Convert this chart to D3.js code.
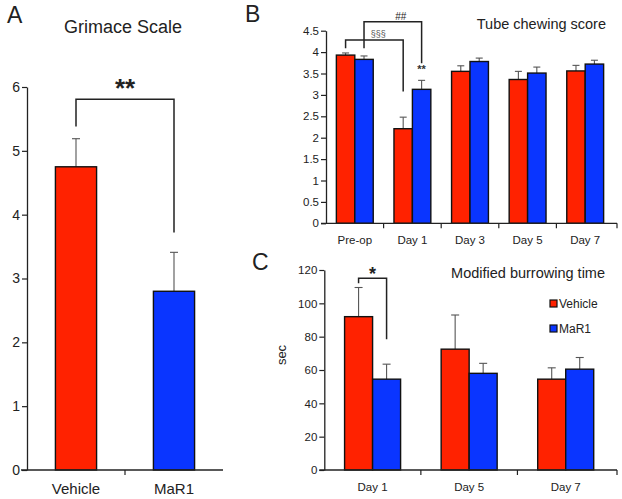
<!DOCTYPE html>
<html><head><meta charset="utf-8">
<script src="https://cdn.jsdelivr.net/npm/d3@7"></script>
<style>body{margin:0;background:#fff}svg{display:block;font-family:"Liberation Sans",Arial,sans-serif}</style>
</head><body><svg id="c" width="622" height="499"></svg>
<script>
// ---- Data ----
const seriesNames = ["Vehicle", "MaR1"];
const colors = ["#ff2200", "#0a35ff"];

// Panel A: Grimace Scale
const aCategories = ["Vehicle", "MaR1"];
const aValues = [4.75, 2.80];
const aErrors = [0.44, 0.61];
const aTicks = [0, 1, 2, 3, 4, 5, 6];

// Panel B: Tube chewing score
const bCategories = ["Pre-op", "Day 1", "Day 3", "Day 5", "Day 7"];
const bVehicle = [3.93, 2.21, 3.55, 3.36, 3.56];
const bVehicleErr = [0.05, 0.27, 0.13, 0.19, 0.13];
const bMaR1 = [3.83, 3.13, 3.78, 3.51, 3.72];
const bMaR1Err = [0.08, 0.21, 0.08, 0.14, 0.09];
const bTicks = [0, 0.5, 1, 1.5, 2, 2.5, 3, 3.5, 4, 4.5];

// Panel C: Modified burrowing time
const cCategories = ["Day 1", "Day 5", "Day 7"];
const cVehicle = [92, 72.5, 54.5];
const cVehicleErr = [17.5, 20.5, 6.8];
const cMaR1 = [54.5, 58, 60.5];
const cMaR1Err = [9, 6, 7];
const cTicks = [0, 20, 40, 60, 80, 100, 120];

const svg = d3.select("#c");

function yAxis(g, y, ticks, fmt, fs, x0) {
  const ax = d3.axisLeft(y).tickValues(ticks).tickFormat(fmt).tickSize(5).tickSizeOuter(0);
  const a = g.append("g").attr("transform", `translate(${x0},0)`).call(ax);
  a.select(".domain").attr("stroke", "#222").attr("stroke-width", 1.3);
  a.selectAll(".tick line").attr("stroke", "#222").attr("stroke-width", 1.2);
  a.selectAll(".tick text").attr("font-size", fs).attr("fill", "#222").attr("x", -7).attr("font-family", "Liberation Sans, Arial, sans-serif");
}
function xAxis(g, x, y0, extra) {
  const [r0, r1] = x.range();
  g.append("line").attr("x1", r0 - 5).attr("x2", r1 + extra).attr("y1", y0).attr("y2", y0).attr("stroke", "#222").attr("stroke-width", 1.3);
  x.domain().forEach((d, i) => {
    if (i === 0) return;
    const xb = x(d);
    g.append("line").attr("x1", xb).attr("x2", xb).attr("y1", y0).attr("y2", y0 + 5).attr("stroke", "#222").attr("stroke-width", 1.2);
  });
  g.append("line").attr("x1", r1 + extra).attr("x2", r1 + extra).attr("y1", y0).attr("y2", y0 + 5).attr("stroke", "#222").attr("stroke-width", 1.2);
}
function bar(g, x0, w, y, v, err, col, cap) {
  const xc = x0 + w / 2;
  g.append("line").attr("x1", xc).attr("x2", xc).attr("y1", y(v)).attr("y2", y(v + err)).attr("stroke", "#555").attr("stroke-width", 1.1);
  g.append("line").attr("x1", xc - cap).attr("x2", xc + cap).attr("y1", y(v + err)).attr("y2", y(v + err)).attr("stroke", "#555").attr("stroke-width", 1.1);
  g.append("rect").attr("x", x0).attr("y", y(v)).attr("width", w).attr("height", y(0) - y(v))
    .attr("fill", col).attr("stroke", "#111").attr("stroke-width", 1.4);
}
function bracket(g, x1, y1, x2, y2, top) {
  g.append("path").attr("d", `M${x1},${y1}V${top}H${x2}V${y2}`).attr("fill", "none").attr("stroke", "#222").attr("stroke-width", 1.5);
}

// ---------- Panel A ----------
{
  const g = svg.append("g");
  const x = d3.scaleBand().domain(aCategories).range([27, 223]).padding(0);
  const y = d3.scaleLinear().domain([0, 6]).range([470, 87]);
  const bw = x.bandwidth() * 0.42;
  aCategories.forEach((c, i) => {
    bar(g, x(c) + (x.bandwidth() - bw) / 2, bw, y, aValues[i], aErrors[i], colors[i], 4);
  });
  yAxis(g, y, aTicks, d3.format("d"), 14, 27);
  g.append("line").attr("x1", 21).attr("x2", 223).attr("y1", y(0)).attr("y2", y(0)).attr("stroke", "#222").attr("stroke-width", 1.3);
  g.append("line").attr("x1", x("MaR1")).attr("x2", x("MaR1")).attr("y1", y(0)).attr("y2", y(0) + 5).attr("stroke", "#222").attr("stroke-width", 1.2);
  aCategories.forEach(c => {
    g.append("text").attr("x", x(c) + x.bandwidth() / 2).attr("y", 494).attr("text-anchor", "middle").attr("font-size", 15).attr("fill", "#222").text(c);
  });
  const xa = x("Vehicle") + x.bandwidth() / 2, xb = x("MaR1") + x.bandwidth() / 2;
  bracket(g, xa, y(5.38), xb, y(3.72), y(5.81));
  g.append("text").attr("x", (xa + xb) / 2).attr("y", y(5.81) - 2).attr("text-anchor", "middle").attr("font-size", 26).attr("font-weight", "bold").attr("fill", "#222").text("**");
  g.append("text").attr("x", 123).attr("y", 33).attr("text-anchor", "middle").attr("font-size", 18).attr("fill", "#222").text("Grimace Scale");
  g.append("text").attr("x", 7).attr("y", 23).attr("font-size", 23).attr("fill", "#222").text("A");
}

// ---------- Panel B ----------
{
  const g = svg.append("g");
  const x = d3.scaleBand().domain(bCategories).range([326, 614]).padding(0);
  const y = d3.scaleLinear().domain([0, 4.5]).range([223.3, 30.7]);
  const bw = x.bandwidth() * 0.32;
  const xr = c => x(c) + x.bandwidth() / 2 - bw;
  const xbl = c => x(c) + x.bandwidth() / 2;
  bCategories.forEach((c, i) => {
    bar(g, xr(c), bw, y, bVehicle[i], bVehicleErr[i], colors[0], 3.5);
    bar(g, xbl(c), bw, y, bMaR1[i], bMaR1Err[i], colors[1], 3.5);
  });
  yAxis(g, y, bTicks, d3.format("~g"), 11.5, 326);
  xAxis(g, x, y(0), 3);
  bCategories.forEach(c => {
    g.append("text").attr("x", x(c) + x.bandwidth() / 2).attr("y", 244).attr("text-anchor", "middle").attr("font-size", 11.5).attr("fill", "#222").text(c);
  });
  const r0 = xr("Pre-op") + bw / 2, r1 = xr("Day 1") + bw / 2;
  const b0 = xbl("Pre-op") + bw / 2, b1 = xbl("Day 1") + bw / 2;
  bracket(g, r0, y(4.09), r1, y(3.08), y(4.28));
  bracket(g, b0, y(4.09), b1, y(3.74), y(4.71));
  g.append("text").attr("x", (r0 + r1) / 2 + 4).attr("y", y(4.28) - 3).attr("text-anchor", "middle").attr("font-size", 9).attr("fill", "#555").text("§§§");
  g.append("text").attr("x", (b0 + b1) / 2 + 8).attr("y", y(4.71) - 2).attr("text-anchor", "middle").attr("font-size", 10).attr("fill", "#222").text("##");
  g.append("text").attr("x", b1).attr("y", y(3.52)).attr("text-anchor", "middle").attr("font-size", 11).attr("font-weight", "bold").attr("fill", "#333").text("**");
  g.append("text").attr("x", 606).attr("y", 29).attr("text-anchor", "end").attr("font-size", 14.5).attr("fill", "#222").text("Tube chewing score");
  g.append("text").attr("x", 245).attr("y", 22).attr("font-size", 23).attr("fill", "#222").text("B");
}

// ---------- Panel C ----------
{
  const g = svg.append("g");
  const x = d3.scaleBand().domain(cCategories).range([324.3, 614]).padding(0);
  const y = d3.scaleLinear().domain([0, 120]).range([470, 270]);
  const bw = x.bandwidth() * 0.29;
  const xr = c => x(c) + x.bandwidth() / 2 - bw;
  const xbl = c => x(c) + x.bandwidth() / 2;
  cCategories.forEach((c, i) => {
    bar(g, xr(c), bw, y, cVehicle[i], cVehicleErr[i], colors[0], 4);
    bar(g, xbl(c), bw, y, cMaR1[i], cMaR1Err[i], colors[1], 4);
  });
  yAxis(g, y, cTicks, d3.format("d"), 11.5, 324.3);
  xAxis(g, x, y(0), 3);
  cCategories.forEach(c => {
    g.append("text").attr("x", x(c) + x.bandwidth() / 2).attr("y", 491).attr("text-anchor", "middle").attr("font-size", 11.5).attr("fill", "#222").text(c);
  });
  const r0 = xr("Day 1") + bw / 2, b0 = xbl("Day 1") + bw / 2;
  bracket(g, r0, y(112), b0, y(78.4), y(115));
  g.append("text").attr("x", (r0 + b0) / 2).attr("y", y(115) + 2).attr("text-anchor", "middle").attr("font-size", 18).attr("font-weight", "bold").attr("fill", "#222").text("*");
  g.append("text").attr("x", 605).attr("y", 278).attr("text-anchor", "end").attr("font-size", 14.5).attr("fill", "#222").text("Modified burrowing time");
  g.append("text").attr("x", 252).attr("y", 270).attr("font-size", 23).attr("fill", "#222").text("C");
  g.append("text").attr("transform", "translate(286,355) rotate(-90)").attr("text-anchor", "middle").attr("font-size", 13).attr("fill", "#222").text("sec");
  seriesNames.forEach((s, i) => {
    const ly = 300 + i * 25;
    g.append("rect").attr("x", 550).attr("y", ly).attr("width", 7).attr("height", 7).attr("fill", colors[i]).attr("stroke", "#111").attr("stroke-width", 1.2);
    g.append("text").attr("x", 559).attr("y", ly + 7.5).attr("font-size", 12).attr("fill", "#222").text(s);
  });
}
</script></body></html>
